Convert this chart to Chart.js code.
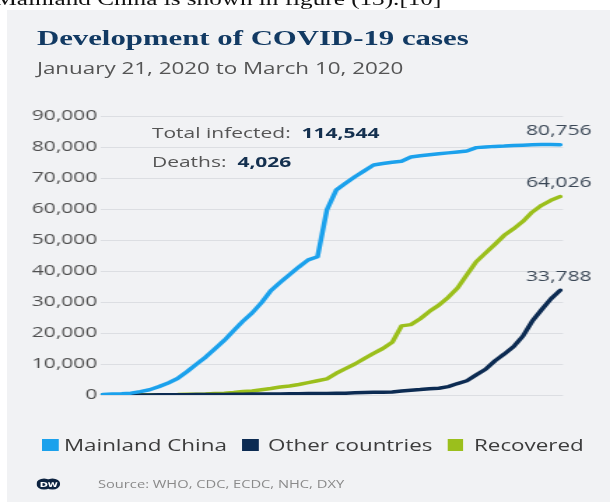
<!DOCTYPE html>
<html>
<head>
<meta charset="utf-8">
<script src="https://cdn.jsdelivr.net/npm/chart.js@4.4.0/dist/chart.umd.min.js"></script>
<style>
  html, body { margin: 0; padding: 0; background: #fff; overflow: hidden; }
  body { width: 610px; height: 502px; position: relative; }
  /* the whole graphic is laid out narrow and stretched sideways */
  #page { position: absolute; left: 0; top: 0; width: 436px; height: 502px;
          transform: scaleX(1.3991); transform-origin: 0 0; }
  .t { position: absolute; white-space: nowrap; line-height: 1; font-family: "Open Sans", sans-serif; }
  #caption { left: -4px; top: -10px; font: 18px/1 "Liberation Serif", serif; color: #111; }
  #card { position: absolute; left: 5px; top: 10px; right: -2px; bottom: -2px; background: #f1f2f4; }
  #title { left: 26.4px; top: 26.6px; font: bold 22px/1 "Liberation Serif", serif; color: #123a63; }
  #subtitle { left: 26.4px; top: 59.5px; font-size: 16px; color: #555; }
  .note { left: 108.6px; font-size: 15px; color: #555; }
  .note b { color: #14304f; font-weight: 700; }
  #chart { position: absolute; left: 0; top: 0; }
  .sw { position: absolute; top: 438.5px; width: 11.5px; height: 12.5px; }
  .lg { top: 436.5px; font-size: 16px; color: #3c3c3c; }
  #source { left: 70px; top: 478.5px; font-size: 10.5px; color: #8a8a8a; }
  #logo { position: absolute; left: 25.5px; top: 478px; }
</style>
</head>
<body>
<div id="page">
  <div class="t" id="caption">Mainland China is shown in figure (13).[10]</div>
  <div id="card"></div>
  <div class="t" id="title">Development of COVID-19 cases</div>
  <div class="t" id="subtitle">January 21, 2020 to March 10, 2020</div>
  <div class="t note" style="top:125px">Total infected:&nbsp; <b>114,544</b></div>
  <div class="t note" style="top:154px">Deaths:&nbsp; <b>4,026</b></div>
  <canvas id="chart" width="436" height="502"></canvas>
  <div id="legend"></div>
  <svg id="logo" width="17" height="12" viewBox="0 0 17 12">
    <circle cx="5.5" cy="6" r="5.5" fill="#0d2340"/>
    <circle cx="11.5" cy="6" r="5.5" fill="#0d2340"/>
    <text x="5.3" y="8.6" font-family="DejaVu Sans" font-weight="bold" font-size="7" fill="#fff" text-anchor="middle">D</text>
    <text x="11.7" y="8.6" font-family="DejaVu Sans" font-weight="bold" font-size="6.5" fill="#fff" text-anchor="middle">W</text>
  </svg>
  <div class="t" id="source">Source: WHO, CDC, ECDC, NHC, DXY</div>
</div>
<script>
// one entry per day, Jan 21 .. Mar 10
const days = [
  "Jan 21", "Jan 22", "Jan 23", "Jan 24", "Jan 25", "Jan 26", "Jan 27", "Jan 28", "Jan 29", "Jan 30",
  "Jan 31", "Feb 1", "Feb 2", "Feb 3", "Feb 4", "Feb 5", "Feb 6", "Feb 7", "Feb 8", "Feb 9",
  "Feb 10", "Feb 11", "Feb 12", "Feb 13", "Feb 14", "Feb 15", "Feb 16", "Feb 17", "Feb 18", "Feb 19",
  "Feb 20", "Feb 21", "Feb 22", "Feb 23", "Feb 24", "Feb 25", "Feb 26", "Feb 27", "Feb 28", "Feb 29",
  "Mar 1", "Mar 2", "Mar 3", "Mar 4", "Mar 5", "Mar 6", "Mar 7", "Mar 8", "Mar 9", "Mar 10"
];

const mainlandChina = [
  200, 300, 400, 600, 1100, 1700, 2700, 3900, 5300, 7500,
  9900, 12200, 14900, 17600, 20700, 23800, 26500, 29800, 33700, 36300,
  38800, 41300, 43600, 44600, 59700, 66100, 68300, 70400, 72300, 74200,
  74700, 75100, 75400, 76800, 77200, 77500, 77800, 78100, 78400, 78700,
  79800, 80000, 80200, 80300, 80500, 80600, 80700, 80800, 80800, 80756
];

const otherCountries = [
  5, 8, 10, 15, 25, 40, 55, 70, 80, 100,
  130, 150, 160, 190, 220, 250, 290, 310, 340, 350,
  380, 400, 450, 500, 520, 550, 600, 700, 800, 850,
  900, 1000, 1300, 1550, 1750, 2000, 2200, 2700, 3700, 4600,
  6500, 8300, 11000, 13200, 15600, 19000, 23800, 27500, 31000, 33788
];

const recovered = [
  30, 30, 35, 40, 50, 60, 100, 120, 140, 220,
  250, 330, 460, 600, 800, 1100, 1300, 1700, 2100, 2600,
  2900, 3400, 4000, 4600, 5200, 7000, 8500, 10000, 11700, 13400,
  15000, 17000, 22300, 22700, 24600, 27000, 29000, 31500, 34500, 38800,
  43000, 45800, 48600, 51500, 53600, 56000, 59000, 61200, 62800, 64026
];

const yTicks = [0, 10000, 20000, 30000, 40000, 50000, 60000, 70000, 80000, 90000];

const series = [
  { label: "Mainland China", values: mainlandChina, color: "#1ba1ec" },
  { label: "Other countries", values: otherCountries, color: "#0c2b52" },
  { label: "Recovered", values: recovered, color: "#9bbf1c" }
];

const fmt = v => v.toLocaleString("en-US");

// html legend, positions along the bottom row
const legendPos = [[30, 45.7], [173, 191.6], [319.5, 338.8]];
const legend = document.getElementById("legend");
series.forEach((s, i) => {
  const sw = document.createElement("div");
  sw.className = "sw";
  sw.style.left = legendPos[i][0] + "px";
  sw.style.background = s.color;
  const tx = document.createElement("div");
  tx.className = "t lg";
  tx.style.left = legendPos[i][1] + "px";
  tx.textContent = s.label;
  legend.appendChild(sw);
  legend.appendChild(tx);
});

// writes the latest figure above the end of each line
const endLabels = {
  id: "endLabels",
  afterDatasetsDraw(chart) {
    const ctx = chart.ctx;
    ctx.save();
    ctx.font = "15px 'Open Sans', sans-serif";
    ctx.fillStyle = "#3a4756";
    ctx.textAlign = "center";
    ctx.textBaseline = "middle";
    chart.data.datasets.forEach((ds, i) => {
      const meta = chart.getDatasetMeta(i);
      const pt = meta.data[meta.data.length - 1];
      const last = ds.data[ds.data.length - 1].y;
      ctx.fillText(fmt(last), pt.x - 1, pt.y - 14);
    });
    ctx.restore();
  }
};

Chart.defaults.font.family = "'Open Sans', sans-serif";

new Chart(document.getElementById("chart"), {
  type: "line",
  data: {
    datasets: series.map(s => ({
      label: s.label,
      data: s.values.map((v, i) => ({ x: i, y: v })),
      borderColor: s.color,
      backgroundColor: s.color,
      borderWidth: 3.5,
      pointRadius: 0,
      tension: 0,
      borderJoinStyle: "round",
      borderCapStyle: "round"
    }))
  },
  options: {
    responsive: false,
    animation: false,
    devicePixelRatio: 1,
    layout: { padding: { top: 116, right: 33.6, bottom: 107, left: 0 } },
    plugins: { legend: { display: false }, tooltip: { enabled: false } },
    scales: {
      x: { type: "linear", min: -0.3, max: days.length - 0.7, display: false },
      y: {
        min: 0,
        max: 90000,
        afterFit: scale => { scale.width = 71.5; },
        afterBuildTicks: scale => { scale.ticks = yTicks.map(v => ({ value: v })); },
        border: { display: false },
        grid: { color: "#dcdee2", lineWidth: 1, drawTicks: false },
        ticks: { padding: 2, color: "#505050", font: { size: 15 }, callback: v => fmt(v) }
      }
    }
  },
  plugins: [endLabels]
});
</script>
</body>
</html>
